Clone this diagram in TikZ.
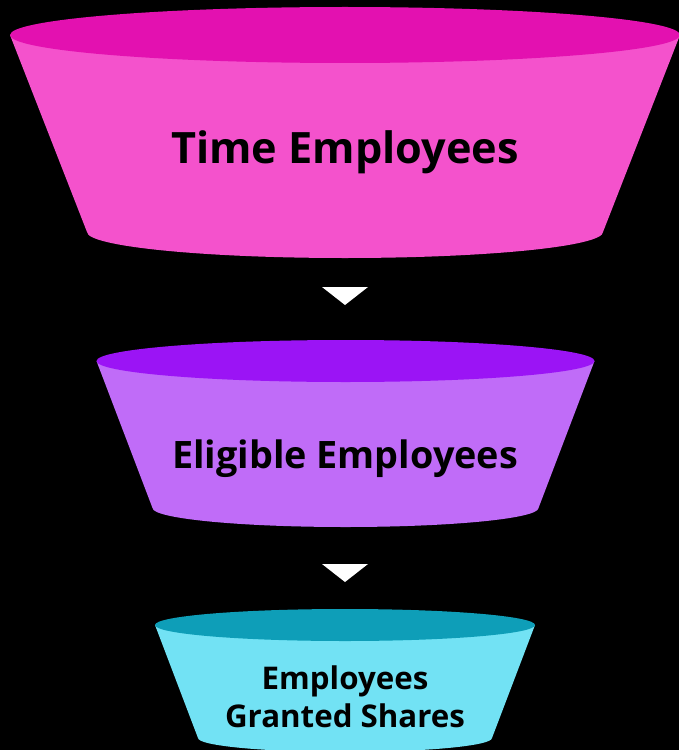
\documentclass[tikz,border=0pt]{standalone}
\usepackage{fontspec}
\setmainfont{Open Sans}
\usetikzlibrary{calc}
\definecolor{pinktop}{HTML}{E311B0}
\definecolor{pinkbody}{HTML}{F452CC}
\definecolor{violettop}{HTML}{9B14F5}
\definecolor{violetbody}{HTML}{C06CF8}
\definecolor{cyantop}{HTML}{0E9EB8}
\definecolor{cyanbody}{HTML}{72E2F4}
\tikzset{
  stagetext/.style={text=black, align=center, font=\bfseries\fontsize{#1}{21.6}\selectfont},
  pointer/.style={fill=white},
}
% centre x, top y, top rx, top ry, bottom half width, bottom y, sag, top colour, body colour
\newcommand{\funnelpart}[9]{%
  \fill[#9] (#1-#3, #2) -- (#1-#5, #6) arc[start angle=180, end angle=0, x radius=#5, y radius=#7] -- (#1+#3, #2) -- cycle;
  \fill[#8] (#1, #2) ellipse [x radius=#3, y radius=#4];
}

\begin{document}
\begin{tikzpicture}[x=0.02cm, y=-0.02cm]
            \fill[black] (0, 0) rectangle (679, 750);
            \useasboundingbox (0, 0) rectangle (679, 750);
            \funnelpart{345}{35}{335}{28}{258}{232}{26}{pinktop}{pinkbody}
            \funnelpart{345.5}{361}{249}{21}{193}{508}{19}{violettop}{violetbody}
            \funnelpart{345}{625}{190}{16}{147}{738}{14}{cyantop}{cyanbody}
            \node[stagetext=24.6] (time) at (345, 152) {Time Employees};
            \node[stagetext=21.5] (eligible) at (345, 459) {Eligible Employees};
            \node[stagetext=17.8] (granted) at (345, 697) {Employees\\Granted Shares};
            \fill[pointer] (322, 287) -- (368, 287) -- (345, 305) -- cycle;
            \fill[pointer] (322, 564) -- (368, 564) -- (345, 582) -- cycle;
        \end{tikzpicture}
\end{document}
